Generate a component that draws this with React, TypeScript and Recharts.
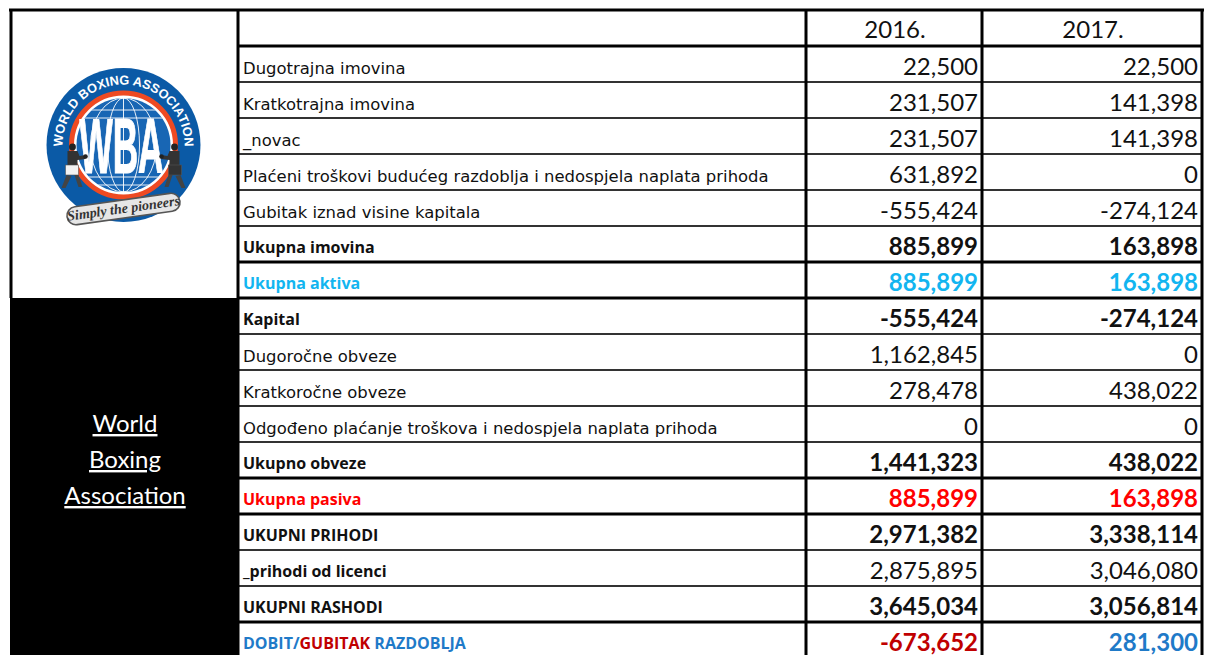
import { ScatterChart, Scatter, XAxis, YAxis, ReferenceLine, ReferenceArea } from 'recharts';

const years = ['2016.', '2017.'];
const rowLabels = [
  'Dugotrajna imovina',
  'Kratkotrajna imovina',
  '_novac',
  'Plaćeni troškovi budućeg razdoblja i nedospjela naplata prihoda',
  'Gubitak iznad visine kapitala',
  'Ukupna imovina',
  'Ukupna aktiva',
  'Kapital',
  'Dugoročne obveze',
  'Kratkoročne obveze',
  'Odgođeno plaćanje troškova i nedospjela naplata prihoda',
  'Ukupno obveze',
  'Ukupna pasiva',
  'UKUPNI PRIHODI',
  '_prihodi od licenci',
  'UKUPNI RASHODI',
  'DOBIT/GUBITAK RAZDOBLJA',
];
const values2016 = [22500, 231507, 231507, 631892, -555424, 885899, 885899, -555424, 1162845, 278478, 0, 1441323, 885899, 2971382, 2875895, 3645034, -673652];
const values2017 = [22500, 141398, 141398, 0, -274124, 163898, 163898, -274124, 0, 438022, 0, 438022, 163898, 3338114, 3046080, 3056814, 281300];
const sideTitle = ['World', 'Boxing', 'Association'];

// row indexes, header row not counted
const boldLabels = [5, 6, 7, 11, 12, 13, 14, 15, 16];
const boldValues = [5, 6, 7, 11, 12, 13, 15, 16];
const thickLines = [1, 7, 8, 13, 14, 17];

const WIDTH = 1207;
const COL_LEFT = 11;
const COL_LABEL = 238;
const COL_2016 = 806;
const COL_2017 = 982;
const COL_END = 1202;
const NUM_FONT = 'Lato, Carlito, sans-serif';
const LABEL_FONT = '"DejaVu Sans", sans-serif';
const BOLD_FONT = '"Open Sans", sans-serif';

const rowColor = (row: number) => {
  if (row === 6) return '#12b5f0';
  if (row === 12) return '#ff0000';
  return '#111111';
};

const labelPoints = rowLabels.map((label, i) => ({ x: COL_LABEL + 5, y: i + 1.5, label, row: i }));
const points2016 = values2016.map((v, i) => ({ x: COL_2017 - 4, y: i + 1.5, v, row: i }));
const points2017 = values2017.map((v, i) => ({ x: COL_END - 4, y: i + 1.5, v, row: i }));
const yearPoints = years.map((label, i) => ({ x: i === 0 ? 895 : 1093, y: 0.5, label }));
const titlePoints = sideTitle.map((label, i) => ({ x: 125, y: 11.5 + i, label }));
const logoPoint = [{ x: 123.5, y: 3.75 }];

const renderLabel = (p: any) => {
  const { row, label } = p.payload;
  const bold = boldLabels.includes(row);
  const common = {
    x: p.cx,
    y: p.cy + (bold ? 9 : 10),
    fontFamily: bold ? BOLD_FONT : LABEL_FONT,
    fontSize: bold ? 16 : 16.45,
    fontWeight: bold ? 700 : 400,
  };
  if (row === 16) {
    return (
      <text {...common}>
        <tspan fill="#1f7ac8">DOBIT/</tspan>
        <tspan fill="#c00000">GUBITAK</tspan>
        <tspan fill="#1f7ac8"> RAZDOBLJA</tspan>
      </text>
    );
  }
  return (
    <text {...common} fill={rowColor(row)}>
      {label}
    </text>
  );
};

const renderValue = (p: any) => {
  const { row, v } = p.payload;
  const bold = boldValues.includes(row);
  let fill = rowColor(row);
  if (row === 16) fill = v < 0 ? '#c00000' : '#1f7ac8';
  return (
    <text
      x={p.cx}
      y={p.cy + 11}
      textAnchor="end"
      fontFamily={NUM_FONT}
      fontSize={24}
      fontWeight={bold ? 700 : 400}
      fill={fill}
    >
      {v.toLocaleString('en-US')}
    </text>
  );
};

const renderYear = (p: any) => (
  <text x={p.cx} y={p.cy + 10} textAnchor="middle" fontFamily={NUM_FONT} fontSize={24} fill="#111111">
    {p.payload.label}
  </text>
);

const renderTitle = (p: any) => (
  <text x={p.cx} y={p.cy + 8} textAnchor="middle" fontFamily={NUM_FONT} fontSize={24} fill="#ffffff" textDecoration="underline">
    {p.payload.label}
  </text>
);

function Boxer({ flip, shorts }: { flip?: boolean; shorts: string }) {
  return (
    <g transform={flip ? 'scale(-1,1)' : undefined}>
      <circle cx={-51} cy={2} r={3.4} fill="#222" />
      <path d="M-56 6 L-46 6 L-44 11 L-38 10 L-38 14 L-46 15 L-46 21 L-56 21 Z" fill="#333" />
      <circle cx={-38} cy={11.5} r={2.3} fill="#222" />
      <rect x={-58} y={20} width={13} height={10} fill={shorts} stroke="#555" strokeWidth={0.6} />
      <path d="M-57 30 L-62 43 L-58 43 L-52 31 Z M-49 30 L-45 42 L-41 42 L-45 30 Z" fill="#444" />
    </g>
  );
}

const renderLogo = (p: any) => {
  const cx = p.cx;
  const cy = p.cy;
  return (
    <g transform={`translate(${cx},${cy})`}>
      <defs>
        <clipPath id="globe">
          <circle r={47} />
        </clipPath>
        <path id="ringText" d="M-59 16 A 61 61 0 1 1 59 16" />
      </defs>
      <circle r={77} fill="#0b5aa6" />
      <text fontFamily="'Liberation Sans', sans-serif" fontWeight={700} fontSize={12.8} fill="#ffffff">
        <textPath href="#ringText" startOffset="50%" textAnchor="middle">
          WORLD BOXING ASSOCIATION
        </textPath>
      </text>
      <circle r={52} fill="#ffffff" stroke="#ee4a22" strokeWidth={5} />
      <circle r={47} fill="#1866b4" />
      <g clipPath="url(#globe)" stroke="#ffffff" strokeWidth={0.9} fill="none">
        <ellipse rx={16} ry={47} />
        <ellipse rx={33} ry={47} />
        <line x1={0} y1={-47} x2={0} y2={47} />
        <line x1={-47} y1={-35} x2={47} y2={-35} />
        <line x1={-47} y1={-27} x2={47} y2={-27} />
        <line x1={-47} y1={32} x2={47} y2={32} />
        <line x1={-47} y1={40} x2={47} y2={40} />
      </g>
      <text
        x={-2}
        y={27.5}
        textAnchor="middle"
        fontFamily="'Liberation Sans', sans-serif"
        fontWeight={700}
        fontSize={78}
        fill="#ffffff"
        stroke="#ffffff"
        strokeWidth={1.2}
        textLength={84}
        lengthAdjust="spacingAndGlyphs"
      >
        WBA
      </text>
      <Boxer shorts="#f2f2f2" />
      <Boxer flip shorts="#333333" />
      <g transform="translate(0,64) rotate(-8)">
        <rect x={-57} y={-9} width={114} height={18} rx={9} fill="#e6e6e6" stroke="#555" strokeWidth={1.6} />
        <text x={0} y={4} textAnchor="middle" fontFamily="'Liberation Serif', serif" fontStyle="italic" fontWeight={700} fontSize={14} fill="#333">
          Simply the pioneers
        </text>
      </g>
    </g>
  );
};

const hLines = Array.from({ length: 17 }, (_, i) => i + 1);

export default function App() {
  return (
    <div style={{ position: 'absolute', left: 0, top: 0, width: WIDTH, height: 655, overflow: 'hidden', background: '#fff' }}>
      <ScatterChart width={WIDTH} height={658} margin={{ top: 10, right: 0, bottom: 0, left: 0 }}>
        <XAxis type="number" dataKey="x" domain={[0, WIDTH]} hide />
        <YAxis type="number" dataKey="y" domain={[0, 18]} reversed hide />
        <ReferenceArea x1={COL_LEFT - 1} x2={COL_LABEL} y1={8} y2={18} fill="#000000" fillOpacity={1} stroke="none" />
        {hLines.map((row) => (
          <ReferenceLine
            key={row}
            segment={[{ x: COL_LABEL, y: row }, { x: COL_END, y: row }]}
            stroke={thickLines.includes(row) ? '#000000' : '#333333'}
            strokeWidth={thickLines.includes(row) ? 3 : 2}
          />
        ))}
        <ReferenceLine segment={[{ x: COL_LEFT - 2, y: 0 }, { x: COL_END + 2, y: 0 }]} stroke="#000000" strokeWidth={3} />
        <ReferenceLine segment={[{ x: COL_LEFT, y: 0 }, { x: COL_LEFT, y: 8 }]} stroke="#000000" strokeWidth={3} />
        {[COL_LABEL, COL_2016, COL_2017, COL_END].map((x) => (
          <ReferenceLine key={x} segment={[{ x, y: 0 }, { x, y: 18 }]} stroke="#000000" strokeWidth={3} />
        ))}
        <Scatter data={logoPoint} shape={renderLogo} isAnimationActive={false} />
        <Scatter data={titlePoints} shape={renderTitle} isAnimationActive={false} />
        <Scatter data={yearPoints} shape={renderYear} isAnimationActive={false} />
        <Scatter data={labelPoints} shape={renderLabel} isAnimationActive={false} />
        <Scatter data={points2016} shape={renderValue} isAnimationActive={false} />
        <Scatter data={points2017} shape={renderValue} isAnimationActive={false} />
      </ScatterChart>
    </div>
  );
}
